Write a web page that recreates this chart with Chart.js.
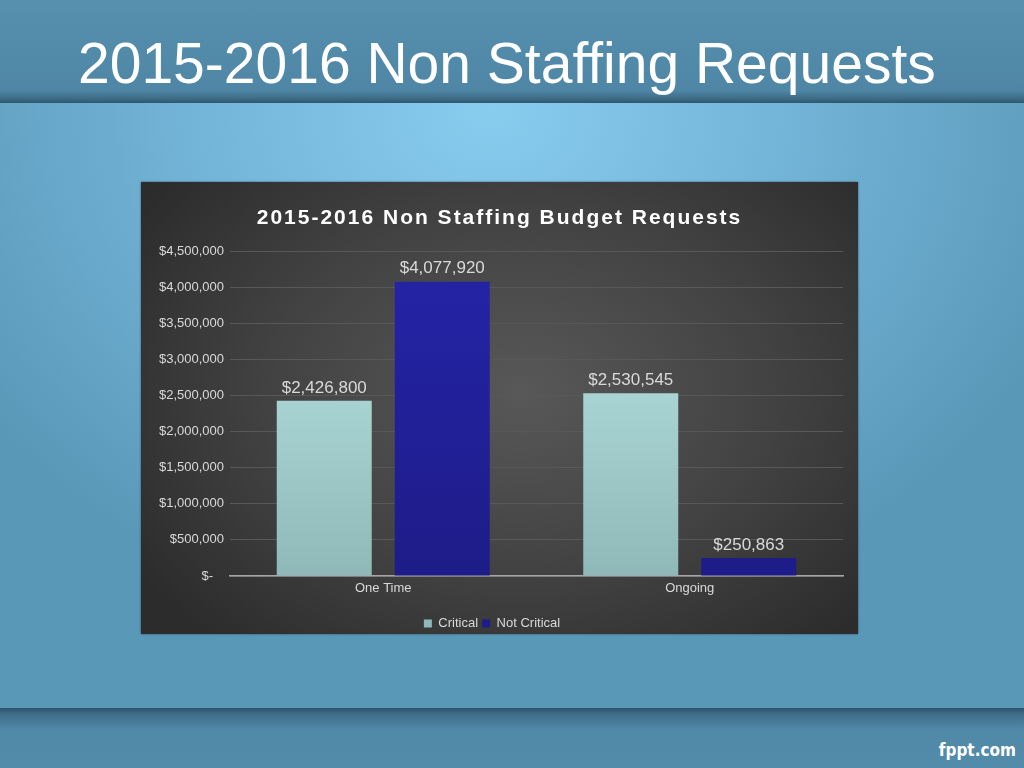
<!DOCTYPE html>
<html>
<head>
<meta charset="utf-8">
<script src="https://cdn.jsdelivr.net/npm/chart.js@4"></script>
<style>
  html, body { margin: 0; padding: 0; }
  body {
    width: 1024px; height: 768px; overflow: hidden; position: relative;
    font-family: "Liberation Sans", Arial, sans-serif;
    background: radial-gradient(ellipse 620px 520px at 490px 110px, #88ccee 0%, #74b6d9 45%, #5a98b8 100%);
  }
  #topband {
    position: absolute; left: 0; top: 0; width: 1024px; height: 103px;
    background: linear-gradient(#5690ae 0%, #4f86a5 88%, #3d6a85 96%, #2f566e 100%);
  }
  #topband h1 {
    margin: 0; position: absolute; left: 78px; top: 33px;
    font-weight: normal; font-size: 57px; color: #fff; line-height: 60px;
    white-space: nowrap;
  }
  #bottomband {
    position: absolute; left: 0; top: 708px; width: 1024px; height: 60px;
    background: linear-gradient(#2c536b 0%, #3f6d89 10%, #4f89a7 35%, #538caa 100%);
  }
  #logo {
    position: absolute; right: 8px; bottom: 8px; color: #fff;
    font-family: "DejaVu Sans Condensed", "DejaVu Sans", sans-serif; font-weight: bold; font-size: 17px;
  }
  #box {
    position: absolute; left: 141px; top: 182px; width: 717px; height: 452px;
    background: radial-gradient(ellipse 460px 330px at 380px 210px, #585858 0%, #424242 55%, #2c2c2c 100%);
    box-shadow: 0 0 2px rgba(0,0,0,0.5);
  }
</style>
</head>
<body>
<div id="topband"><h1>2015-2016 Non Staffing Requests</h1></div>
<div id="bottomband"><div id="logo">fppt.com</div></div>
<div id="box"><canvas id="budgetChart" width="717" height="452"></canvas></div>
<script>
// chart data
const categories = ['One Time', 'Ongoing'];
const criticalValues = [2426800, 2530545];
const notCriticalValues = [4077920, 250863];
const seriesNames = ['Critical', 'Not Critical'];
const chartTitle = '2015-2016 Non Staffing Budget Requests';

const FONT = '"Liberation Sans", Arial, sans-serif';

function money(v) {
    if (v === 0) return '$-   ';
    return '$' + v.toLocaleString('en-US');
}

// value labels above each bar
const barLabels = {
    id: 'barLabels',
    afterDatasetsDraw(chart) {
        const ctx = chart.ctx;
        ctx.save();
        ctx.font = '17px ' + FONT;
        ctx.fillStyle = '#d9d9d9';
        ctx.textAlign = 'center';
        ctx.textBaseline = 'middle';
        chart.data.datasets.forEach((ds, i) => {
            chart.getDatasetMeta(i).data.forEach((bar, j) => {
                ctx.fillText(money(ds.data[j]), bar.x, bar.y - 13);
            });
        });
        ctx.restore();
    }
};

// the built-in title keeps the space, this one draws it with letter spacing
const spacedTitle = {
    id: 'spacedTitle',
    afterDraw(chart) {
        const tb = chart.titleBlock;
        if (!tb) return;
        const ctx = chart.ctx;
        ctx.save();
        ctx.font = 'bold 21px ' + FONT;
        ctx.letterSpacing = '2px';
        ctx.fillStyle = '#ffffff';
        ctx.textAlign = 'center';
        ctx.textBaseline = 'middle';
        const y = tb.top + tb.options.padding.top + 12.6;
        ctx.fillText(chartTitle, (chart.width) / 2, y);
        ctx.restore();
    }
};

const ctx = document.getElementById('budgetChart').getContext('2d');

function criticalFill(context) {
    const area = context.chart.chartArea;
    if (!area) return '#a8d8d8';
    const g = context.chart.ctx.createLinearGradient(0, area.top, 0, area.bottom);
    g.addColorStop(0, '#bde8e8');
    g.addColorStop(1, '#8fb9b9');
    return g;
}

function notCriticalFill(context) {
    const area = context.chart.chartArea;
    if (!area) return '#2220a0';
    const g = context.chart.ctx.createLinearGradient(0, area.top, 0, area.bottom);
    g.addColorStop(0, '#2424a8');
    g.addColorStop(1, '#1e1c88');
    return g;
}

const chart = new Chart(ctx, {
    type: 'bar',
    data: {
        labels: categories,
        datasets: [
            {
                label: seriesNames[0],
                data: criticalValues,
                backgroundColor: criticalFill,
                categoryPercentage: 0.77,
                barPercentage: 0.805
            },
            {
                label: seriesNames[1],
                data: notCriticalValues,
                backgroundColor: notCriticalFill,
                categoryPercentage: 0.77,
                barPercentage: 0.805
            }
        ]
    },
    options: {
        responsive: false,
        animation: false,
        devicePixelRatio: 1,
        layout: { padding: { left: 0, right: 15, top: 0, bottom: -6 } },
        plugins: {
            title: {
                display: true,
                text: chartTitle,
                color: 'rgba(0,0,0,0)',
                font: { family: FONT, size: 21, weight: 'bold' },
                padding: { top: 24, bottom: 20 }
            },
            legend: {
                position: 'bottom',
                labels: {
                    color: '#d9d9d9',
                    font: { family: FONT, size: 13 },
                    boxWidth: 8, boxHeight: 8,
                    padding: 4
                }
            },
            tooltip: { enabled: false }
        },
        scales: {
            x: {
                afterFit(scale) { scale.height = 37; },
                grid: { display: false, drawTicks: false },
                border: { color: '#a6a6a6', width: 1.5 },
                ticks: {
                    color: '#d9d9d9',
                    font: { family: FONT, size: 13 },
                    padding: 5
                }
            },
            y: {
                min: 0, max: 4500000,
                afterFit(scale) { scale.width = 89; },
                grid: { color: '#585858', drawTicks: false },
                border: { display: false },
                ticks: {
                    stepSize: 500000,
                    color: '#d9d9d9',
                    padding: 6,
                    font: { family: FONT, size: 13 },
                    callback: v => money(v)
                }
            }
        }
    },
    plugins: [barLabels, spacedTitle]
});
</script>
</body>
</html>
